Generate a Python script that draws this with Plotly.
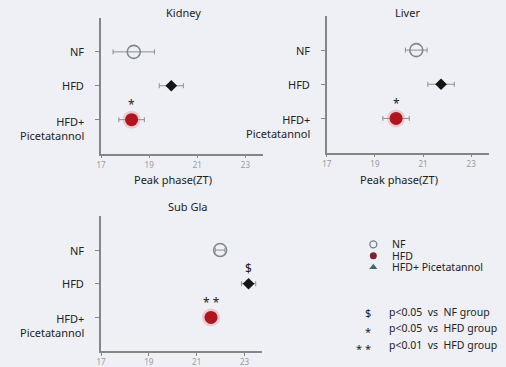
import plotly.graph_objects as go

# ---------------- data ----------------
groups = ["NF", "HFD", "HFD+ Picetatannol"]
y_tick_labels = ["NF", "HFD", "HFD+<br>Picetatannol"]
group_pos = [3, 2, 1]
x_ticks = [17, 19, 21, 23]

kidney_mean = [18.36, 19.92, 18.27]
kidney_err = [0.86, 0.50, 0.53]
liver_mean = [20.72, 21.75, 19.88]
liver_err = [0.45, 0.55, 0.55]
subgla_mean = [21.98, 23.17, 21.60]
subgla_err = [0.20, 0.30, 0.15]

panel_titles = ["Kidney", "Liver", "Sub Gla"]
kidney_sig = ["", "", "*"]
liver_sig = ["", "", "*"]
subgla_sig = ["", "$", "* *"]

legend_labels = ["NF", "HFD", "HFD+ Picetatannol"]
stat_symbols = ["$", "*", "* *"]
stat_texts = ["p<0.05  vs  NF group", "p<0.05  vs  HFD group", "p<0.01  vs  HFD group"]

# ---------------- style ----------------
W, H = 506, 367
BG = "#eef0f6"
AXIS = "#858585"
FONT = "Noto Sans"
TXT = "#222222"
RED = "#b0141e"

def px_x(p):
    return p / W

def px_y(p):
    return 1 - p / H

def keep_spaces(s):
    # SVG collapses runs of spaces; keep them with non-breaking spaces
    return s.replace("  ", " \u00a0")

panels = [
    dict(mean=kidney_mean, err=kidney_err, sig=kidney_sig, title=panel_titles[0],
         dom_x=(97, 261), dom_y=(154, 18), title_px=(180, 13), xtitle=True),
    dict(mean=liver_mean, err=liver_err, sig=liver_sig, title=panel_titles[1],
         dom_x=(325, 489), dom_y=(153, 16), title_px=(407, 13), xtitle=True),
    dict(mean=subgla_mean, err=subgla_err, sig=subgla_sig, title=panel_titles[2],
         dom_x=(97, 260), dom_y=(352, 217), title_px=(184, 207), xtitle=False),
]

fig = go.Figure()
annotations = []
layout_axes = {}

for i, p in enumerate(panels, start=1):
    xa = "x" if i == 1 else f"x{i}"
    ya = "y" if i == 1 else f"y{i}"
    xkey = "xaxis" if i == 1 else f"xaxis{i}"
    ykey = "yaxis" if i == 1 else f"yaxis{i}"

    styles = [
        dict(symbol="circle-open", size=13, color="#7b8b8c", line=dict(width=1.6, color="#7b8b8c")),
        dict(symbol="diamond", size=9, color="#151515"),
        dict(symbol="circle", size=13, color=RED),
    ]
    # halo behind the red marker
    fig.add_trace(go.Scatter(
        x=[p["mean"][2]], y=[group_pos[2]], xaxis=xa, yaxis=ya, mode="markers",
        marker=dict(symbol="circle", size=18, color="rgba(238,120,135,0.33)"),
        showlegend=False, hoverinfo="skip"))
    for g in range(3):
        fig.add_trace(go.Scatter(
            x=[p["mean"][g]], y=[group_pos[g]], xaxis=xa, yaxis=ya, mode="markers",
            marker=styles[g],
            error_x=dict(type="data", array=[p["err"][g]], color="#8f8f8f", thickness=1, width=2.5),
            showlegend=False, name=groups[g]))
        if p["sig"][g]:
            annotations.append(dict(
                x=p["mean"][g], y=group_pos[g] + 0.5, xref=xa, yref=ya, text=p["sig"][g],
                showarrow=False, font=dict(family=FONT, size=12, color=TXT), yshift=-2))

    x0, x1 = p["dom_x"]
    yb, yt = p["dom_y"]
    layout_axes[xkey] = dict(
        domain=[px_x(x0), px_x(x1)], range=[17, 23.75], anchor=ya,
        tickvals=x_ticks, ticktext=[str(t) for t in x_ticks],
        ticks="outside", ticklen=3, tickcolor=AXIS, tickwidth=1,
        showline=True, linecolor=AXIS, linewidth=1.5,
        showgrid=False, zeroline=False,
        tickfont=dict(family=FONT, size=8, color="#9a9a9a"))
    layout_axes[ykey] = dict(
        domain=[px_y(yb), px_y(yt)], range=[0, 4], anchor=xa,
        tickvals=group_pos, ticktext=[""] * 3, showticklabels=False,
        ticks="outside", ticklen=4, tickcolor=AXIS, tickwidth=1,
        showline=True, linecolor=AXIS, linewidth=1.5,
        showgrid=False, zeroline=False)

    # category labels
    for g in range(3):
        lab = y_tick_labels[g]
        multi = "<br>" in lab
        annotations.append(dict(
            x=px_x(x0 - 15), y=group_pos[g], xref="paper", yref=ya, text=lab,
            showarrow=False, xanchor="right", align="right",
            yanchor="top" if multi else "middle", yshift=8 if multi else 0,
            font=dict(family=FONT, size=11, color=TXT)))
    # panel title
    annotations.append(dict(
        x=px_x(p["title_px"][0]), y=px_y(p["title_px"][1]), xref="paper", yref="paper",
        text=p["title"], showarrow=False, xanchor="center", yanchor="middle",
        font=dict(family=FONT, size=11, color=TXT)))
    if p["xtitle"]:
        annotations.append(dict(
            x=20, y=px_y(180), xref=xa, yref="paper", text="Peak phase(ZT)",
            showarrow=False, xanchor="center", yanchor="middle",
            font=dict(family=FONT, size=11, color=TXT)))

# ---------------- custom legend on a hidden pixel axis ----------------
leg_x = 372
leg_y = [245, 256.5, 268]
leg_markers = [
    dict(symbol="circle-open", size=7, color="#6f8182", line=dict(width=1.3, color="#6f8182")),
    dict(symbol="circle", size=7, color="#7c2232"),
    dict(symbol="triangle-up", size=7, color="#3d6b5d"),
]
for k in range(3):
    fig.add_trace(go.Scatter(
        x=[leg_x], y=[leg_y[k]], xaxis="x4", yaxis="y4", mode="markers",
        marker=leg_markers[k], showlegend=False, hoverinfo="skip", name=legend_labels[k]))
    annotations.append(dict(
        x=389, y=leg_y[k], xref="x4", yref="y4", text=legend_labels[k], showarrow=False,
        xanchor="left", yanchor="middle", font=dict(family=FONT, size=10.5, color=TXT)))

stat_y = [313, 329, 346]
for k in range(3):
    annotations.append(dict(
        x=372, y=stat_y[k] + (3 if "*" in stat_symbols[k] else 0), xref="x4", yref="y4",
        text=keep_spaces(stat_symbols[k]), showarrow=False,
        xanchor="right", yanchor="middle", font=dict(family=FONT, size=11, color=TXT)))
    annotations.append(dict(
        x=386, y=stat_y[k], xref="x4", yref="y4", text=keep_spaces(stat_texts[k]),
        showarrow=False,
        xanchor="left", yanchor="middle", font=dict(family=FONT, size=10.5, color=TXT)))

layout_axes["xaxis4"] = dict(domain=[0, 1], range=[0, W], visible=False, anchor="y4",
                             fixedrange=True)
layout_axes["yaxis4"] = dict(domain=[0, 1], range=[H, 0], visible=False, anchor="x4",
                             fixedrange=True)

fig.update_layout(
    width=W, height=H,
    margin=dict(l=0, r=0, t=0, b=0),
    paper_bgcolor=BG, plot_bgcolor="rgba(0,0,0,0)",
    font=dict(family=FONT, color=TXT),
    showlegend=False,
    annotations=annotations,
    **layout_axes,
)

fig.write_html(
    "out.html",
    config={"displayModeBar": False},
    post_script="document.body.style.margin='0';document.body.style.background='" + BG + "';",
)
